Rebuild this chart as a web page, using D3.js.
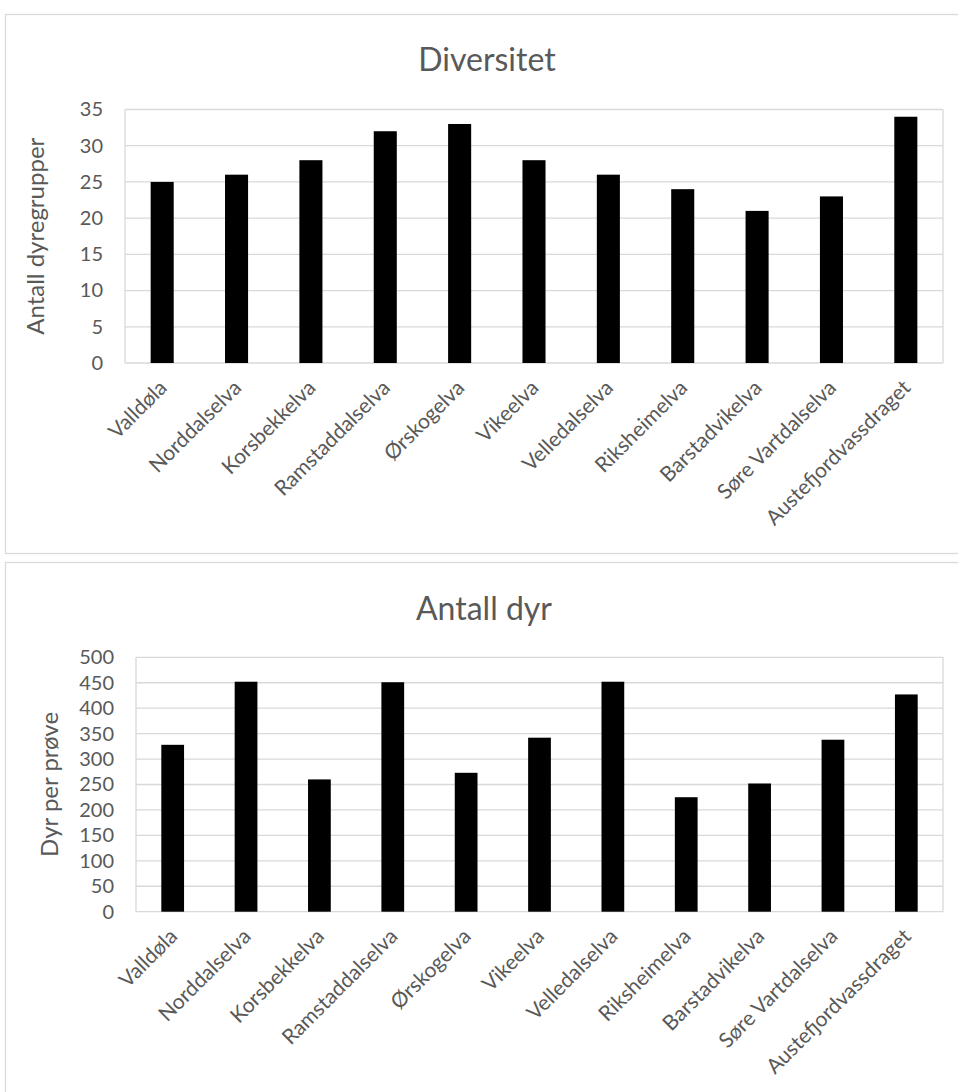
<!DOCTYPE html>
<html>
<head>
<meta charset="utf-8">
<script src="https://cdn.jsdelivr.net/npm/d3@7/dist/d3.min.js"></script>
<style>
  html, body { margin: 0; padding: 0; background: #ffffff; }
  svg { display: block; }
  text { font-family: Lato, "Open Sans", sans-serif; fill: #595959; }
</style>
</head>
<body>
<svg id="chart" width="958" height="1092"></svg>
<script>
const categories = ["Valldøla", "Norddalselva", "Korsbekkelva", "Ramstaddalselva", "Ørskogelva", "Vikeelva", "Velledalselva", "Riksheimelva", "Barstadvikelva", "Søre Vartdalselva", "Austefjordvassdraget"];
const diversitetValues = [25, 26, 28, 32, 33, 28, 26, 24, 21, 23, 34];
const antallDyrValues = [328, 452, 260, 451, 273, 342, 452, 225, 252, 338, 427];
const diversitetTicks = [0, 5, 10, 15, 20, 25, 30, 35];
const antallDyrTicks = [0, 50, 100, 150, 200, 250, 300, 350, 400, 450, 500];

const svg = d3.select("#chart");
const grid = "#d9d9d9";

function drawChart(cfg) {
  const g = svg.append("g");
  // container border
  g.append("rect")
    .attr("x", 5.5).attr("y", cfg.boxTop + 0.5)
    .attr("width", 1000).attr("height", cfg.boxHeight)
    .attr("fill", "#fff").attr("stroke", grid).attr("stroke-width", 1.3);

  const x = d3.scaleBand().domain(categories)
    .range([cfg.left, cfg.right]).paddingInner(0.69).paddingOuter(0.345);
  const y = d3.scaleLinear().domain([0, cfg.max]).range([cfg.bottom, cfg.top]);

  // gridlines
  g.append("g").selectAll("line").data(cfg.ticks).join("line")
    .attr("x1", cfg.left).attr("x2", cfg.right)
    .attr("y1", d => y(d)).attr("y2", d => y(d))
    .attr("stroke", grid).attr("stroke-width", 1.3);
  // plot side borders
  g.append("line").attr("x1", cfg.left).attr("x2", cfg.left)
    .attr("y1", y(cfg.max)).attr("y2", y(0)).attr("stroke", grid).attr("stroke-width", 1.3);
  g.append("line").attr("x1", cfg.right).attr("x2", cfg.right)
    .attr("y1", y(cfg.max)).attr("y2", y(0)).attr("stroke", grid).attr("stroke-width", 1.3);

  // bars
  g.append("g").selectAll("rect").data(cfg.values).join("rect")
    .attr("x", (d, i) => x(categories[i]))
    .attr("width", x.bandwidth())
    .attr("y", d => y(d))
    .attr("height", d => y(0) - y(d))
    .attr("fill", "#000");

  // y axis via d3 axis
  const yAxis = d3.axisLeft(y).tickValues(cfg.ticks).tickSize(0).tickPadding(22);
  const ya = g.append("g").attr("transform", `translate(${cfg.left},0)`).call(yAxis);
  ya.select(".domain").remove();
  ya.selectAll("text").attr("font-size", 20).attr("font-family", "Lato").attr("fill", "#595959");

  // x labels
  g.append("g").selectAll("text").data(categories).join("text")
    .attr("transform", d => `translate(${x(d) + x.bandwidth() / 2 + 6},${cfg.bottom + 26}) rotate(-45)`)
    .attr("text-anchor", "end")
    .attr("font-size", 21)
    .text(d => d);

  // title
  g.append("text").attr("x", cfg.titleX).attr("y", cfg.titleY)
    .attr("text-anchor", "middle").attr("font-size", 32).text(cfg.title);

  // axis title
  g.append("text")
    .attr("transform", `translate(${cfg.axisTitleX},${(cfg.top + cfg.bottom) / 2}) rotate(-90)`)
    .attr("text-anchor", "middle").attr("font-size", 24).text(cfg.axisTitle);
}

drawChart({
  boxTop: 14, boxHeight: 539,
  left: 125, right: 943, top: 109.5, bottom: 363,
  max: 35, ticks: diversitetTicks, values: diversitetValues,
  title: "Diversitet", titleX: 487, titleY: 71,
  axisTitle: "Antall dyregrupper", axisTitleX: 44
});

drawChart({
  boxTop: 562, boxHeight: 600,
  left: 136, right: 943, top: 657.3, bottom: 911.7,
  max: 500, ticks: antallDyrTicks, values: antallDyrValues,
  title: "Antall dyr", titleX: 484, titleY: 620,
  axisTitle: "Dyr per prøve", axisTitleX: 58
});
</script>
</body>
</html>
